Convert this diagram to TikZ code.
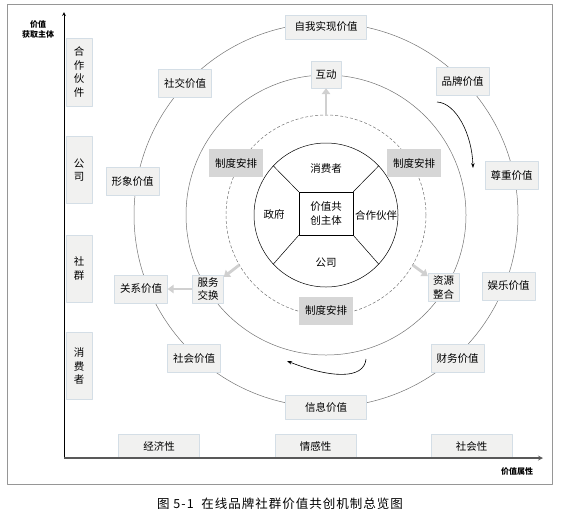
\documentclass[tikz,border=0pt]{standalone}
\usepackage{fontspec}
\setmainfont{Noto Sans CJK SC}
\usetikzlibrary{arrows.meta}
\definecolor{boxfill}{RGB}{241,241,240}
\definecolor{boxline}{RGB}{212,222,230}
\definecolor{rulefill}{RGB}{214,214,214}
\definecolor{ringline}{RGB}{115,115,115}
\definecolor{flowgray}{RGB}{208,208,208}
\definecolor{framegray}{RGB}{150,150,150}
\begin{document}
\begin{tikzpicture}[x=1pt, y=-1pt, font=\fontsize{10.5}{13.5}\selectfont, line join=round, >=stealth,
	valbox/.style={draw=boxline, fill=boxfill, minimum width=53pt, minimum height=28pt, inner sep=1pt},
	widebox/.style={valbox, minimum width=81pt, minimum height=24pt},
	pairbox/.style={valbox, minimum width=31pt, align=center},
	tallbox/.style={valbox, minimum width=26pt, minimum height=67pt, align=center},
	rulebox/.style={fill=rulefill, minimum width=54pt, minimum height=28pt, inner sep=1pt},
	ring/.style={circle, draw=ringline, line width=0.5pt, inner sep=0pt},
	flow/.style={draw=flowgray, line width=2.8pt, -{Triangle[length=6pt,width=8.5pt]}},
	turn/.style={line width=0.6pt, -{Stealth[length=5pt,width=3.5pt]}},
	axislabel/.style={font=\fontsize{8}{10}\selectfont\bfseries, align=center}]
	\useasboundingbox (0,0) rectangle (561,515);
	%%%%%%%%%%%%%%%%%%%%%%%%%%%%%%%%%
	\coordinate (O) at (326,215);
	\coordinate (origin) at (64,458);
	\coordinate (ytip) at (64,12);
	\coordinate (xtip) at (543,458);
	\coordinate (cwA) at (437,102);
	\coordinate (cwB) at (473,168);
	\coordinate (ccwA) at (366,359);
	\coordinate (ccwB) at (287,361);
	%%%%%%%%%%%%%%%%%%%%%%%%%%%%%%%%%
	\draw[framegray] (7,4) rectangle (552,484);
	\node[font=\fontsize{12.5}{14}\selectfont\addfontfeature{LetterSpace=8}] (caption) at (280,504) {图 5-1\ \ 在线品牌社群价值共创机制总览图};
	%%%%%%%%%%%%%%%%%%%%%%%%%%%%%%%%%
	\node[ring, minimum size=384pt] (outer) at (O) {};
	\node[ring, minimum size=280pt] (middle) at (O) {};
	\node[ring, dash pattern=on 3pt off 2pt, minimum size=200pt] (dashring) at (O) {};
	\node[circle, draw, line width=0.5pt, inner sep=0pt, minimum size=144pt] (core) at (O) {};
	\node[draw, line width=0.5pt, fill=white, minimum width=54pt, minimum height=43pt, align=center, inner sep=0pt] (subject) at (326,213.5) {价值共\\创主体};
	\begin{scope}[line width=0.5pt]
		\draw (subject.north west) -- (core.137);
		\draw (subject.north east) -- (core.43);
		\draw (subject.south west) -- (core.223);
		\draw (subject.south east) -- (core.317);
	\end{scope}
	\node (consumer) at (326,168) {消费者};
	\node (gov) at (274,214) {政府};
	\node (partner) at (376,215) {合作伙伴};
	\node (company) at (326,263) {公司};
	%%%%%%%%%%%%%%%%%%%%%%%%%%%%%%%%%
	\node[rulebox] (ruleL) at (236,163) {制度安排};
	\node[rulebox] (ruleR) at (414,163) {制度安排};
	\node[rulebox] (ruleB) at (326,310.5) {制度安排};
	\node[valbox, minimum width=30pt, minimum height=27pt] (interact) at (326,74.5) {互动};
	\node[pairbox] (service) at (208,289) {服务\\交换};
	\node[pairbox] (resource) at (443.5,287.5) {资源\\整合};
	%%%%%%%%%%%%%%%%%%%%%%%%%%%%%%%%%
	\node[widebox] (selfreal) at (326,27) {自我实现价值};
	\node[valbox] (socialise) at (185,83.5) {社交价值};
	\node[valbox] (brand) at (462.5,81.5) {品牌价值};
	\node[valbox] (respect) at (511.5,175.5) {尊重价值};
	\node[valbox] (image) at (132.5,181.5) {形象价值};
	\node[valbox] (relation) at (141,289) {关系价值};
	\node[valbox] (fun) at (508.5,286) {娱乐价值};
	\node[valbox] (society) at (194,358.5) {社会价值};
	\node[valbox] (finance) at (457.5,358.5) {财务价值};
	\node[widebox] (info) at (326,407.5) {信息价值};
	%%%%%%%%%%%%%%%%%%%%%%%%%%%%%%%%%
	\draw[flow] (dashring.north) -- (interact);
	\draw[flow] (dashring.210) -- (service);
	\draw[flow] (service) -- (relation);
	\draw[flow] (dashring.330) -- (resource);
	\draw[turn] (cwA) .. controls (456,103) and (472,134) .. (cwB);
	\draw[turn] (ccwA) .. controls (364,380) and (330,378) .. (ccwB);
	%%%%%%%%%%%%%%%%%%%%%%%%%%%%%%%%%
	\node[tallbox, minimum height=68pt] (partnerY) at (79,72) {合\\作\\伙\\件};
	\node[tallbox] (companyY) at (79,170) {公\\司};
	\node[tallbox] (communityY) at (79,268.5) {社\\群};
	\node[tallbox] (consumerY) at (79,366) {消\\费\\者};
	\node[widebox] (economic) at (159,446) {经济性};
	\node[widebox] (emotion) at (315.5,446) {情感性};
	\node[widebox] (sociality) at (471.5,446) {社会性};
	%%%%%%%%%%%%%%%%%%%%%%%%%%%%%%%%%
	\draw[->, line width=0.8pt] (origin) -- (ytip);
	\draw[->, line width=1.2pt, black!65] (origin) -- (xtip);
	\node[axislabel] (holder) at (38,29) {价值\\获取主体};
	\node[axislabel] (attr) at (517,471) {价值属性};
	%%%%%%%%%%%%%%%%%%%%%%%%%%%%%%%%%
\end{tikzpicture}
\end{document}
